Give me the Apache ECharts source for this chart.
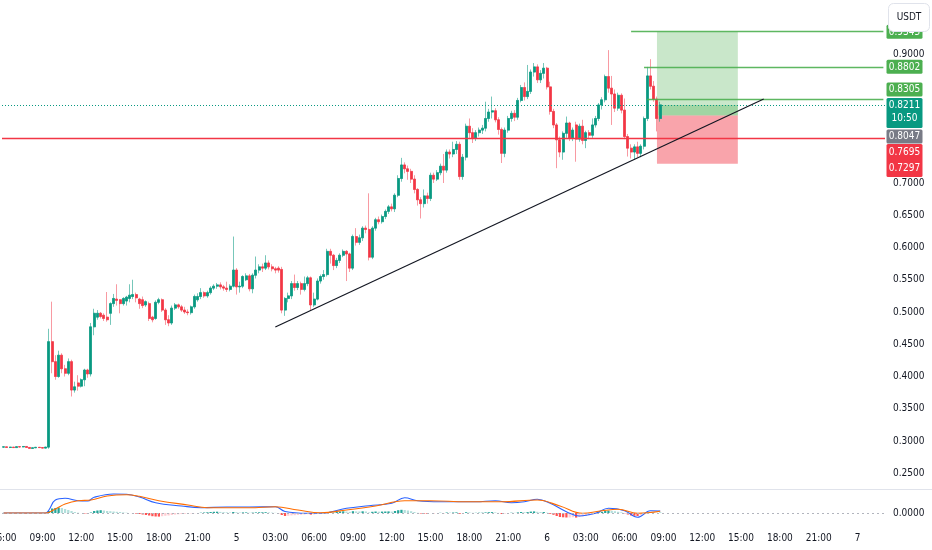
<!DOCTYPE html>
<html><head><meta charset="utf-8">
<script src="https://cdn.jsdelivr.net/npm/echarts@6/dist/echarts.min.js"></script>
<style>html,body{margin:0;padding:0;background:#fff}#c{width:932px;height:550px}</style>
</head><body><div id="c"></div>
<script>
// ---------- DATA ----------
// 15-minute candles starting day 4 06:00 : [open, close, low, high]
const candles = [
[.2905,.2910,.2895,.2915],[.2910,.2900,.2895,.2912],[.2900,.2905,.2890,.2910],[.2905,.2898,.2892,.2908],
[.2898,.2912,.2895,.2918],[.2912,.2908,.2900,.2915],[.2908,.2915,.2902,.2920],[.2915,.2900,.2895,.2918],
[.2900,.2885,.2880,.2905],[.2885,.2895,.2880,.2900],[.2895,.2902,.2890,.2908],[.2902,.2898,.2892,.2906],
[.2898,.2890,.2885,.2902],[.2890,.2905,.2885,.2910],
[.2905,.454,.288,.474],[.454,.423,.405,.516],[.423,.400,.395,.433],[.400,.433,.398,.440],[.433,.412,.405,.436],
[.412,.405,.400,.418],[.405,.423,.402,.428],[.423,.379,.369,.426],[.379,.384,.375,.392],[.390,.385,.378,.402],
[.385,.395,.383,.397],[.395,.410,.385,.412],[.410,.404,.398,.412],[.404,.477,.400,.483],[.477,.498,.464,.505],
[.492,.498,.488,.503],[.498,.493,.490,.500],[.495,.490,.486,.498],[.492,.488,.485,.531],[.498,.513,.480,.515],
[.513,.521,.508,.528],[.520,.518,.510,.543],[.519,.513,.498,.520],[.513,.521,.510,.523],[.517,.523,.510,.525],
[.521,.526,.515,.543],[.524,.527,.520,.550],[.527,.522,.515,.530],[.520,.513,.505,.522],[.519,.510,.506,.524],
[.511,.516,.508,.518],[.513,.490,.486,.516],[.492,.488,.484,.494],[.490,.515,.488,.518],[.515,.519,.512,.522],
[.519,.503,.500,.521],[.503,.488,.480,.506],[.488,.483,.478,.495],[.483,.506,.480,.510],[.506,.511,.503,.514],
[.511,.508,.505,.513],[.508,.503,.500,.511],[.503,.500,.497,.508],[.500,.499,.495,.504],[.499,.508,.496,.510],
[.508,.524,.505,.527],[.519,.524,.516,.529],[.524,.530,.520,.537],[.530,.525,.522,.532],[.525,.530,.522,.533],
[.530,.537,.527,.540],[.537,.540,.534,.543],[.540,.542,.536,.545],[.542,.539,.535,.546],[.539,.537,.533,.542],
[.537,.535,.531,.547],[.535,.540,.532,.543],[.540,.565,.538,.617],[.565,.539,.527,.568],[.539,.540,.530,.547],
[.540,.555,.537,.557],[.550,.556,.548,.560],[.556,.536,.532,.559],[.536,.557,.529,.560],[.557,.565,.552,.586],
[.565,.570,.560,.574],[.570,.568,.562,.575],[.568,.576,.565,.588],[.576,.570,.566,.580],[.570,.567,.563,.574],
[.567,.565,.560,.570],[.568,.565,.561,.571],[.566,.503,.498,.570],[.503,.521,.494,.523],[.521,.525,.515,.530],
[.525,.544,.520,.548],[.544,.538,.533,.558],[.538,.544,.534,.548],[.544,.535,.527,.547],[.535,.544,.532,.555],
[.544,.553,.540,.556],[.553,.511,.503,.555],[.511,.520,.508,.530],[.520,.548,.518,.552],[.548,.555,.544,.558],
[.555,.558,.550,.565],[.558,.594,.555,.598],[.594,.588,.575,.598],[.588,.572,.565,.590],[.572,.580,.568,.584],
[.580,.588,.576,.591],[.588,.594,.585,.597],[.594,.590,.548,.596],[.590,.568,.562,.592],[.568,.617,.565,.620],
[.617,.608,.603,.630],[.608,.615,.604,.620],[.615,.630,.610,.633],[.630,.628,.622,.634],[.628,.585,.580,.684],
[.585,.630,.582,.633],[.630,.643,.626,.646],[.643,.640,.636,.648],[.640,.648,.637,.651],[.648,.656,.644,.659],
[.656,.663,.652,.666],[.663,.660,.656,.668],[.660,.681,.655,.684],[.681,.707,.678,.712],[.707,.728,.702,.739],
[.728,.722,.715,.732],[.722,.718,.705,.727],[.718,.706,.700,.722],[.706,.690,.684,.712],[.690,.674,.665,.692],
[.674,.668,.645,.678],[.668,.680,.662,.690],[.680,.676,.668,.685],[.676,.712,.672,.716],[.712,.706,.700,.716],
[.706,.716,.703,.720],[.716,.726,.712,.730],[.726,.720,.700,.745],[.720,.748,.716,.752],[.748,.745,.738,.752],
[.745,.752,.740,.764],[.752,.760,.745,.765],[.760,.710,.705,.764],[.710,.740,.705,.745],[.740,.788,.735,.792],
[.788,.778,.770,.800],[.778,.770,.762,.785],[.770,.778,.765,.782],[.778,.782,.772,.786],[.782,.785,.776,.790],
[.785,.800,.780,.826],[.800,.810,.795,.815],[.810,.812,.800,.834],[.812,.798,.794,.816],[.798,.783,.775,.802],
[.783,.746,.731,.786],[.746,.782,.740,.786],[.782,.800,.778,.804],[.800,.808,.795,.812],[.808,.802,.796,.813],
[.802,.828,.798,.832],[.828,.848,.825,.852],[.848,.834,.828,.856],[.834,.842,.830,.883],[.842,.872,.838,.876],
[.872,.880,.865,.886],[.880,.860,.855,.884],[.860,.870,.855,.875],[.870,.878,.862,.886],
[.878,.849,.845,.880],[.849,.811,.806,.857],[.811,.790,.785,.815],[.790,.767,.723,.793],[.767,.748,.740,.772],
[.748,.777,.736,.780],[.777,.793,.770,.803],[.793,.770,.765,.795],[.770,.782,.765,.786],[.790,.768,.733,.795],
[.768,.788,.764,.792],[.788,.766,.760,.798],[.766,.778,.754,.781],[.778,.774,.768,.782],[.774,.790,.770,.800],
[.790,.800,.786,.804],[.800,.821,.796,.824],[.821,.829,.814,.833],[.829,.865,.825,.868],[.865,.847,.840,.906],
[.847,.838,.790,.866],[.838,.816,.810,.845],[.816,.836,.812,.840],[.836,.813,.808,.839],[.813,.772,.768,.831],
[.772,.754,.741,.776],[.754,.748,.738,.760],[.748,.756,.736,.760],[.756,.746,.740,.764],[.746,.757,.740,.760],
[.757,.800,.752,.803],[.800,.866,.796,.880],[.866,.850,.845,.892],[.850,.830,.826,.858],[.830,.800,.780,.834],
[.800,.8211,.795,.826]
];
const slotCount = 273;                       // 15-min slots shown on the time axis
const xTickLabels = ['06:00','09:00','12:00','15:00','18:00','21:00','5','03:00','06:00','09:00','12:00','15:00',
  '18:00','21:00','6','03:00','06:00','09:00','12:00','15:00','18:00','21:00','7'];
const slotsPerTick = 12;

// MACD pane (values in thousandths)
const macdSlots = [0,13,14,16,19,23,26,28,34,38,42,47,55,61,69,76,84,87,94,98,106,113,120,124,128,135,146,152,157,161,165,169,174,178,183,187,192,196,200,203];
const macdVals  = [0,0,3,13,14.7,12.3,12,15.7,19,18.7,16,10.3,7,5.3,6,6,6.3,1.5,-0.3,-0.3,4.7,7.3,9.7,15.3,12.3,11.3,11.3,12.3,10.3,11.3,13.7,9.7,1.3,-3,-0.3,4.7,2.3,-4.3,2.3,2];
const signalSlots = [0,13,16,19,23,27,32,38,42,48,57,63,76,84,91,98,106,115,124,132,143,154,165,172,179,185,190,196,203];
const signalVals  = [0,0,4,9,12.3,13,17,18.3,16.7,12.3,8,5.3,5.3,6.3,3,0.3,3,7,12.3,12.3,11.3,11.3,13,7,-0.3,2.3,3.7,-0.3,1.7];
const histVals = [
0.1,-0.1,0.1,-0.1,0.1,0.1,-0.1,-0.2,-0.2,0.1,0.1,-0.1,-0.1,0.1,
2,4.5,5,5.5,5,4,3,2,1,0.3,0,-0.5,-0.8,0.5,2,2.5,2.8,2.5,2,1.8,1.5,1.2,1,0.6,0.3,0,
-0.3,-0.6,-1,-1.5,-2,-2.5,-3.2,-3.5,-3.6,-3.2,-2.8,-2.5,-2,-1.6,-1.3,-1,-0.8,-0.6,-0.4,-0.2,
0,0.3,0.5,0.7,1,1.2,1.3,1.1,0.9,0.7,0.5,1,0.8,0.5,0.6,0.6,0.3,0.4,0.6,0.7,0.7,0.8,0.6,0.4,0.2,-0.2,
-2,-3,-2.8,-2.4,-2.2,-2,-1.8,-1.5,-1.2,-1.6,-1.4,-1,-0.5,0,
0.8,1.2,1.1,1.3,1.5,1.7,1.5,1.2,1.8,1.6,1.5,1.7,1.5,0.6,1.2,1.5,1.3,1.4,1.5,1.6,1.4,2,2.8,3.2,3,2.5,1.8,1,0.2,
-0.5,-0.6,-0.8,0,-0.2,0,0.2,-0.2,0.5,0.4,0.5,0.6,-0.8,-0.6,0.8,0.6,0.2,0.2,0.3,0.3,0.6,0.8,0.9,0.6,0.1,-1,-0.5,
0,0.3,0.2,0.6,1,0.8,0.9,1.4,1.6,1.2,1,1,0.3,
-0.8,-1.8,-3,-4,-4.3,-4.5,-4.5,-4.2,-4.6,-4,-3.5,-3,-2.3,-1.5,-0.5,
0.5,1.2,2.2,2.4,2.2,1.8,1.2,0.7,-0.3,-1.5,-2.5,-2.8,-3,-2.6,-1.5,0.5,0.8,0.6,0.2,0.3
];

// drawings
const trendSlots = [84, 235];
const trendPrices = [0.4767, 0.8302];
const positionSlots = [202, 227];
const entryPrice = 0.8047, targetPrice = 0.9345, stopPrice = 0.7297, lastPrice = 0.8211;
const targetLineStart = 194, tp1Price = 0.8802, tp1Start = 198, tp2Price = 0.8305, tp2Start = 199;
const redLevel = 0.7695;
const countdown = '10:50';
const currency = 'USDT';
const hiddenPriceTicks = [0.75, 0.80, 0.85];

// ---------- CHART ----------
const FONT = "'DejaVu Sans Condensed', 'Liberation Sans Narrow', Roboto, 'Liberation Sans', sans-serif";
const FS = 10;
const UP = '#089981', DOWN = '#F23645', LEVEL_GREEN = '#4CAF50';
const cats = Array.from({length: slotCount}, (_, i) => String(i));
const bodies = candles.map(([o, c]) => [o, c, Math.min(o, c), Math.max(o, c)]);
const pairs = (xs, ys) => xs.map((x, i) => [x, ys[i]]);
const histData = histVals.map((v, i) => {
  const p = i > 0 ? histVals[i - 1] : 0;
  const col = v >= 0 ? (v >= p ? '#26A69A' : '#B2DFDB') : (v < p ? '#FF5252' : '#FFCDD2');
  return {value: v, itemStyle: {color: col}};
});
const last = slotCount - 1;

const chart = echarts.init(document.getElementById('c'), null, {renderer: 'canvas'});
chart.setOption({
  animation: false,
  backgroundColor: '#ffffff',
  textStyle: {fontFamily: FONT},
  grid: [
    {left: 2, right: 47, top: 0, height: 473.25},
    {left: 2, right: 47, top: 490, height: 35}
  ],
  xAxis: [
    {type: 'category', gridIndex: 0, data: cats, axisLine: {show: false}, axisTick: {show: false},
     axisLabel: {show: false}, splitLine: {show: false}},
    {type: 'category', gridIndex: 1, data: cats, axisLine: {show: false}, axisTick: {show: false},
     splitLine: {show: false},
     // the first tick label sits at the very left edge and is drawn below (clipped by the canvas edge)
     axisLabel: {interval: (i) => i % slotsPerTick === 0,
       formatter: (v, i) => i === 0 ? '' : (xTickLabels[i / slotsPerTick] || ''),
       color: '#131722', fontSize: FS, fontFamily: FONT, margin: 8, hideOverlap: false}}
  ],
  yAxis: [
    {type: 'value', gridIndex: 0, position: 'right', min: 0.25, max: 0.98372, interval: 0.05,
     axisLine: {show: false}, axisTick: {show: false}, splitLine: {show: false},
     axisLabel: {margin: 8, color: '#131722', fontSize: FS, fontFamily: FONT,
       formatter: (v) => (v > 0.9001 || hiddenPriceTicks.some(h => Math.abs(h - v) < 1e-6)) ? '' : v.toFixed(4)}},
    {type: 'value', gridIndex: 1, position: 'right', min: -12, max: 23, interval: 12,
     axisLine: {show: false}, axisTick: {show: false}, splitLine: {show: false},
     axisLabel: {margin: 8, color: '#131722', fontSize: FS, fontFamily: FONT,
       formatter: (v) => v === 0 ? '0.0000' : ''}}
  ],
  series: [
    {type: 'candlestick', xAxisIndex: 0, yAxisIndex: 0, data: candles, barWidth: 2.5,
     itemStyle: {color: 'transparent', color0: 'transparent', borderColor: 'rgba(8,153,129,0.55)',
       borderColor0: 'rgba(242,54,69,0.5)', borderWidth: 1},
     markLine: {silent: true, symbol: 'none', label: {show: false},
       lineStyle: {color: LEVEL_GREEN, width: 1.4, type: 'solid', opacity: 0.9},
       data: [
         [{coord: [targetLineStart, targetPrice]}, {coord: [last, targetPrice]}],
         [{coord: [tp1Start, tp1Price]}, {coord: [last, tp1Price]}],
         [{coord: [tp2Start, tp2Price]}, {coord: [last, tp2Price]}]
       ]}},
    {type: 'candlestick', xAxisIndex: 0, yAxisIndex: 0, data: bodies, barWidth: 2.5,
     itemStyle: {color: UP, color0: DOWN, borderColor: UP, borderColor0: DOWN, borderWidth: 0.5},
     markArea: {silent: true, data: [
       [{coord: [positionSlots[0], entryPrice], itemStyle: {color: 'rgba(76,175,80,0.3)'}}, {coord: [positionSlots[1], targetPrice]}],
       [{coord: [positionSlots[0], entryPrice], itemStyle: {color: 'rgba(76,175,80,0.32)'}}, {coord: [positionSlots[1], lastPrice]}],
       [{coord: [positionSlots[0], stopPrice], itemStyle: {color: 'rgba(242,54,69,0.45)'}}, {coord: [positionSlots[1], entryPrice]}]
     ]},
     markLine: {silent: true, symbol: 'none', label: {show: false},
       lineStyle: {color: '#131722', width: 1.2, type: 'solid'},
       data: [
         {yAxis: redLevel, lineStyle: {color: '#F23645', width: 1.3, type: 'solid'}},
         {yAxis: lastPrice, lineStyle: {color: '#089981', width: 1, type: [1, 2]}},
         [{coord: [trendSlots[0], trendPrices[0]]}, {coord: [trendSlots[1], trendPrices[1]]}]
       ]}},
    {type: 'bar', xAxisIndex: 1, yAxisIndex: 1, data: histData, barWidth: '70%',
     markLine: {silent: true, symbol: 'none', label: {show: false},
       data: [{yAxis: 0, lineStyle: {color: '#B2B5BE', width: 1, type: [2, 3]}}]}},
    {type: 'line', xAxisIndex: 1, yAxisIndex: 1, data: pairs(macdSlots, macdVals), smooth: 0.4, symbol: 'none',
     lineStyle: {color: '#2962FF', width: 1.1}, z: 3},
    {type: 'line', xAxisIndex: 1, yAxisIndex: 1, data: pairs(signalSlots, signalVals), smooth: 0.4, symbol: 'none',
     lineStyle: {color: '#FF6D00', width: 1.1}, z: 3}
  ]
});

// ---------- price-scale label boxes (positions from the axis scale) ----------
const py = (v) => chart.convertToPixel({yAxisIndex: 0}, v);
const BX = 886.5, BW = 36, H = 14;
const tealTop = py(lastPrice) - 7, tealH = 30;
const b2Bottom = Math.min(py(tp2Price) + 7, tealTop - 1.5);
const b1Bottom = Math.min(py(tp1Price) + 7, b2Bottom - H - 1);
const b0Top = py(targetPrice) - 7;
const grayTop = Math.max(py(entryPrice) - 7, tealTop + tealH + 1.5);
const redTop = Math.max(py(redLevel) - 8, grayTop + H + 0.5), redH = 33;
const firstTickX = chart.convertToPixel({xAxisIndex: 1}, cats[0]);
const tickLabelY = chart.convertToPixel({yAxisIndex: 1}, -12) + 8;

function box(top, h, fill, lines) {
  const els = [{type: 'rect', shape: {x: BX, y: top, width: BW, height: h, r: 1.5}, style: {fill: fill}, z: 100}];
  lines.forEach(([txt, cy]) => els.push({type: 'text', x: BX + BW / 2, y: cy, z: 101,
    style: {text: txt, fill: '#ffffff', font: FS + 'px ' + FONT, align: 'center', verticalAlign: 'middle'}}));
  return els;
}
const graphics = [].concat(
  [{type: 'rect', shape: {x: 0, y: 489, width: 932, height: 1}, style: {fill: '#E0E3EB'}, z: 50},
   {type: 'text', x: firstTickX, y: tickLabelY, z: 60,
    style: {text: xTickLabels[0], fill: '#131722', font: FS + 'px ' + FONT, align: 'center', verticalAlign: 'top'}}],
  box(b0Top, H, LEVEL_GREEN, [[targetPrice.toFixed(4), b0Top + 7.5]]),
  box(b1Bottom - H, H, LEVEL_GREEN, [[tp1Price.toFixed(4), b1Bottom - 6.5]]),
  box(b2Bottom - H, H, LEVEL_GREEN, [[tp2Price.toFixed(4), b2Bottom - 6.5]]),
  box(tealTop, tealH, '#089981', [[lastPrice.toFixed(4), tealTop + 8], [countdown, tealTop + 21]]),
  box(grayTop, H, '#787B86', [[entryPrice.toFixed(4), grayTop + 7.5]]),
  box(redTop, redH, '#F23645', [[redLevel.toFixed(4), redTop + 8.5], [stopPrice.toFixed(4), redTop + 25]]),
  [{type: 'rect', shape: {x: 888.5, y: 3.5, width: 41, height: 28, r: 5},
    style: {fill: '#ffffff', stroke: '#E0E3EB', lineWidth: 1}, z: 110},
   {type: 'text', x: 909, y: 17.5, z: 111,
    style: {text: currency, fill: '#131722', font: FS + 'px ' + FONT, align: 'center', verticalAlign: 'middle'}}]
);
chart.setOption({graphic: graphics});
</script>
</body></html>
